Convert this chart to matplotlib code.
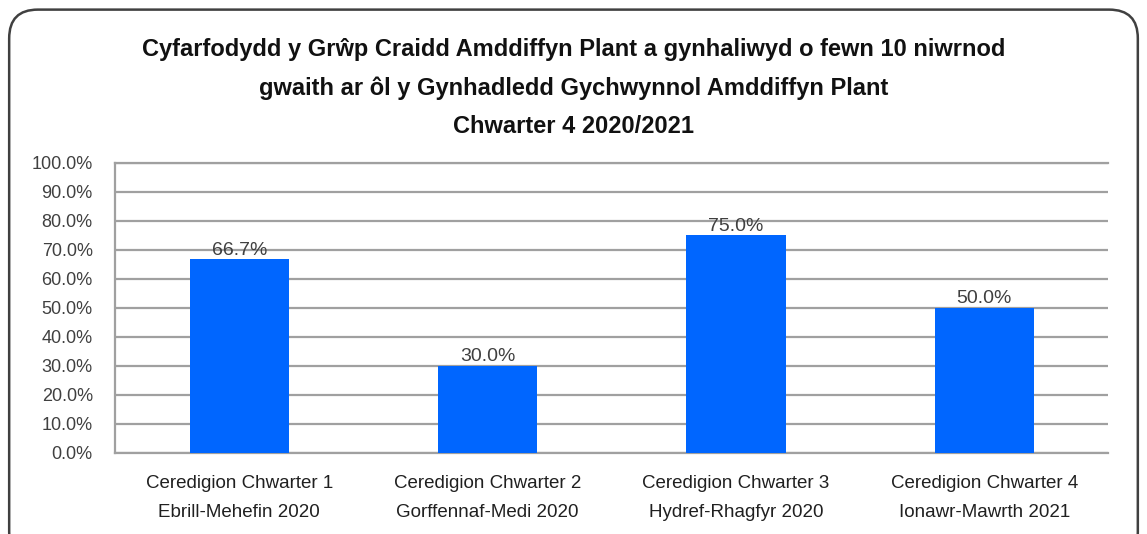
import matplotlib.pyplot as plt
from matplotlib.patches import FancyBboxPatch
from matplotlib.ticker import FuncFormatter

categories = [
    "Ceredigion Chwarter 1\nEbrill-Mehefin 2020",
    "Ceredigion Chwarter 2\nGorffennaf-Medi 2020",
    "Ceredigion Chwarter 3\nHydref-Rhagfyr 2020",
    "Ceredigion Chwarter 4\nIonawr-Mawrth 2021",
]
values = [66.7, 30.0, 75.0, 50.0]
yticks = [0, 10, 20, 30, 40, 50, 60, 70, 80, 90, 100]

title = ("Cyfarfodydd y Grŵp Craidd Amddiffyn Plant a gynhaliwyd o fewn 10 niwrnod\n"
         "gwaith ar ôl y Gynhadledd Gychwynnol Amddiffyn Plant\n"
         "Chwarter 4 2020/2021")

plt.rcParams['font.family'] = ['Liberation Sans', 'DejaVu Sans']

fig = plt.figure(figsize=(11.47, 5.34), dpi=100)

# rounded frame around the chart
frame = FancyBboxPatch((0.008, -0.05), 0.984, 1.032,
                       boxstyle="round,pad=0,rounding_size=0.025",
                       transform=fig.transFigure, fill=False,
                       edgecolor='#404040', linewidth=1.8, mutation_aspect=2.15)
fig.patches.append(frame)

ax = fig.add_axes([0.1003, 0.152, 0.866, 0.543])
x = range(len(categories))
ax.bar(x, values, width=0.4, color='#0066FF', zorder=3)

for xi, v in zip(x, values):
    ax.text(xi, v + 0.2, f"{v:.1f}%", ha='center', va='bottom',
            fontsize=14, color='#404040', zorder=4)

ax.set_xlim(-0.5, 3.5)
ax.set_ylim(0, 100)
ax.set_yticks(yticks)
ax.yaxis.set_major_formatter(FuncFormatter(lambda v, p: f"{v:.1f}%"))
ax.set_xticks(list(x))
ax.set_xticklabels(categories, fontsize=13.5, color='#202020', linespacing=1.95)
ax.tick_params(axis='y', labelsize=13, labelcolor='#404040', length=0, pad=16)
ax.tick_params(axis='x', length=0, pad=16)

ax.grid(axis='y', color='#A0A0A0', linewidth=1.6, zorder=1)
ax.spines['right'].set_visible(False)
for s in ['left', 'bottom', 'top']:
    ax.spines[s].set_color('#A0A0A0')
    ax.spines[s].set_linewidth(1.6)

fig.text(0.5, 0.835, title, ha='center', va='center', fontsize=17,
         fontweight='bold', color='#111111', linespacing=1.85)

fig.savefig('out.png', dpi=100)
